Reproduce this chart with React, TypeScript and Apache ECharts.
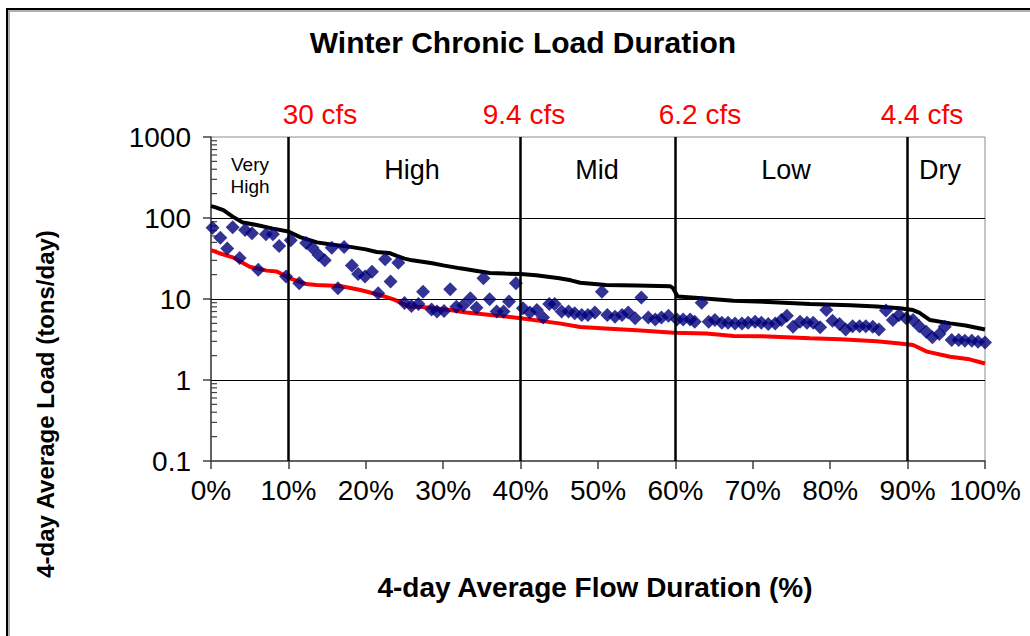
import React, { useEffect, useRef } from "react";
import * as echarts from "echarts";

// ---- data ----
const xTickLabels = ["0%", "10%", "20%", "30%", "40%", "50%", "60%", "70%", "80%", "90%", "100%"];
const yTickLabels = ["0.1", "1", "10", "100", "1000"];
const yMinorTicks = [
  0.2, 0.3, 0.4, 0.5, 0.6, 0.7, 0.8, 0.9,
  2, 3, 4, 5, 6, 7, 8, 9,
  20, 30, 40, 50, 60, 70, 80, 90,
  200, 300, 400, 500, 600, 700, 800, 900,
];
const zoneBoundaries = [10, 40, 60, 90];
const gridValues = [1, 10, 100];
const flowLabels = ["30 cfs", "9.4 cfs", "6.2 cfs", "4.4 cfs"];
const zoneNames = ["High", "Mid", "Low", "Dry"];

// upper curve (black)
const upperCurve: [number, number][] = [
  [0, 140], [0.5, 136], [1.6, 125], [2.8, 104], [4.1, 88], [5.9, 82], [8, 74], [10, 68],
  [11.5, 58], [13.7, 50], [15.5, 47], [18, 44], [20, 41], [21.4, 38], [23, 37], [24, 34],
  [25, 31.5], [26, 30], [28.6, 27.6], [30, 26], [32.2, 23.9], [34, 22.5], [36, 21], [38, 20.6],
  [40, 20.3], [42, 19.6], [45, 18], [46.5, 17], [47.7, 15.9], [51, 14.9], [55, 14.7],
  [59.3, 14.4], [59.7, 13.6], [60.3, 10.7], [63, 10.3], [67.5, 9.5], [72, 9.2], [77.4, 8.7],
  [82.6, 8.4], [86, 8.1], [89, 7.7], [90.7, 7.3], [91.5, 6.8], [92.9, 5.5], [95.5, 5.0],
  [97.5, 4.7], [100, 4.2],
];

// lower curve (red)
const lowerCurve: [number, number][] = [
  [0, 40], [1, 37], [2.8, 32.7], [5, 25], [7.2, 22.4], [8.5, 21.8], [10.2, 18], [12.3, 15.3],
  [13.6, 14.9], [16.7, 14.5], [19.3, 12.9], [21.8, 11.2], [23.6, 9.9], [25.7, 8.0], [27, 8.0],
  [30.9, 7.3], [33, 6.8], [40, 5.8], [45, 5.0], [47.7, 4.5], [51.5, 4.3], [55, 4.1],
  [59.8, 3.84], [64, 3.75], [67.5, 3.5], [72, 3.45], [77.4, 3.27], [81.3, 3.18], [86, 3.0],
  [89, 2.83], [90.7, 2.7], [92.5, 2.24], [95.5, 1.94], [98, 1.8], [100, 1.6],
];

// observed loads (navy diamonds)
const observedLoads: [number, number][] = [
  [0.2, 76], [1.2, 57], [2.1, 42], [2.8, 77], [3.7, 32], [4.4, 71], [5.3, 65], [6.1, 23],
  [7.1, 63], [8.0, 63], [8.8, 45], [9.7, 19], [10.3, 53], [11.4, 15.6], [12.3, 49], [13.1, 43],
  [13.9, 35], [14.7, 30], [15.6, 43], [16.4, 13.6], [17.2, 44], [18.2, 26], [19.0, 20.4],
  [19.9, 19], [20.8, 21.7], [21.6, 11.8], [22.5, 31], [23.2, 16.4], [24.2, 28], [25.0, 8.9],
  [25.9, 8.2], [26.8, 8.7], [27.4, 12.3], [28.5, 7.4], [29.2, 7.0], [30.1, 7.1], [30.9, 13.2],
  [31.7, 8.0], [32.6, 8.4], [33.5, 10.2], [34.3, 7.8], [35.2, 18], [36.0, 9.9], [36.9, 7.0],
  [37.8, 7.0], [38.5, 9.3], [39.4, 15.6], [40.3, 7.7], [41.2, 6.8], [42.1, 7.3], [42.9, 5.9],
  [43.7, 8.7], [44.4, 8.7], [45.3, 7.0], [46.2, 7.0], [47.0, 6.65], [47.9, 6.35], [48.7, 6.35],
  [49.6, 6.8], [50.5, 12.3], [51.2, 6.35], [52.2, 6.05], [53.1, 6.35], [53.9, 6.8], [54.8, 5.77],
  [55.6, 10.4], [56.5, 5.9], [57.4, 5.6], [58.2, 5.9], [59.1, 6.2], [60.2, 5.6], [61.0, 5.6],
  [61.9, 5.6], [62.5, 5.25], [63.4, 9.0], [64.3, 5.25], [65.1, 5.5], [66.0, 5.1], [66.8, 5.1],
  [67.7, 5.0], [68.6, 5.0], [69.4, 5.1], [70.3, 5.25], [71.1, 5.1], [72.0, 4.9], [72.9, 5.0],
  [73.7, 5.5], [74.4, 6.2], [75.2, 4.55], [76.1, 5.25], [77.0, 5.1], [77.8, 5.1], [78.7, 4.47],
  [79.5, 7.3], [80.3, 5.4], [81.2, 4.9], [82.0, 4.2], [82.9, 4.6], [83.8, 4.6], [84.6, 4.6],
  [85.5, 4.55], [86.3, 4.2], [87.2, 7.2], [88.1, 5.5], [88.9, 6.35], [89.8, 5.77], [90.7, 5.5],
  [91.5, 4.6], [92.4, 3.95], [93.2, 3.37], [94.1, 3.7], [94.8, 4.55], [95.7, 3.12], [96.6, 3.12],
  [97.4, 3.05], [98.3, 3.05], [99.1, 2.97], [100, 2.9],
];

const FONT = '"Liberation Sans", Arial, Helvetica, sans-serif';

export default function App() {
  const ref = useRef<HTMLDivElement>(null);

  useEffect(() => {
    if (!ref.current) return;
    const chart = echarts.init(ref.current, undefined, { renderer: "svg" });

    const flowLabelX = [320, 524, 700, 922];
    const zoneNameX = [412, 597, 786, 940];

    const graphic: any[] = [
      // outer frame
      {
        type: "polyline",
        silent: true,
        shape: { points: [[9, 700], [9, 11], [1100, 11]] },
        style: { stroke: "#b0b0b0", lineWidth: 2, fill: "none" },
        z: 0,
      },
      {
        type: "polyline",
        silent: true,
        shape: { points: [[7, 700], [7, 9], [1100, 9]] },
        style: { stroke: "#000", lineWidth: 2, fill: "none" },
        z: 1,
      },
      {
        type: "text",
        x: 523,
        y: 42,
        style: {
          text: "Winter Chronic Load Duration",
          font: `bold 30px ${FONT}`,
          fill: "#000",
          textAlign: "center",
          textVerticalAlign: "middle",
        },
      },
      {
        type: "text",
        x: 595,
        y: 587,
        style: {
          text: "4-day Average Flow Duration (%)",
          font: `bold 28px ${FONT}`,
          fill: "#000",
          textAlign: "center",
          textVerticalAlign: "middle",
        },
      },
      {
        type: "text",
        x: 45,
        y: 404,
        rotation: Math.PI / 2,
        style: {
          text: "4-day Average Load (tons/day)",
          font: `bold 24px ${FONT}`,
          fill: "#000",
          textAlign: "center",
          textVerticalAlign: "middle",
        },
      },
      {
        type: "text",
        x: 250,
        y: 164,
        style: { text: "Very", font: `19px ${FONT}`, fill: "#000", textAlign: "center", textVerticalAlign: "middle" },
      },
      {
        type: "text",
        x: 250,
        y: 186,
        style: { text: "High", font: `19px ${FONT}`, fill: "#000", textAlign: "center", textVerticalAlign: "middle" },
      },
      ...flowLabels.map((t, i) => ({
        type: "text",
        x: flowLabelX[i],
        y: 114,
        style: { text: t, font: `28px ${FONT}`, fill: "#ff0000", textAlign: "center", textVerticalAlign: "middle" },
      })),
      ...zoneNames.map((t, i) => ({
        type: "text",
        x: zoneNameX[i],
        y: 170,
        style: { text: t, font: `27px ${FONT}`, fill: "#000", textAlign: "center", textVerticalAlign: "middle" },
      })),
    ];

    const option: any = {
      animation: false,
      backgroundColor: "#ffffff",
      textStyle: { fontFamily: FONT },
      grid: {
        left: 211,
        top: 137,
        width: 774,
        height: 324,
        show: true,
        borderColor: "#8c8c8c",
        borderWidth: 1,
        backgroundColor: "transparent",
      },
      xAxis: {
        type: "value",
        min: 0,
        max: 100,
        interval: 10,
        axisLine: { show: true, lineStyle: { color: "#404040", width: 1.5 } },
        axisTick: { show: true, length: 8, lineStyle: { color: "#404040", width: 1.5 } },
        axisLabel: {
          fontSize: 28,
          color: "#000",
          fontFamily: FONT,
          margin: 15,
          formatter: (v: number) => xTickLabels[Math.round(v / 10)] ?? "",
        },
        splitLine: { show: false },
      },
      yAxis: {
        type: "log",
        logBase: 10,
        min: 0.1,
        max: 1000,
        axisLine: { show: true, lineStyle: { color: "#404040", width: 1.5 } },
        axisTick: { show: true, length: 8, lineStyle: { color: "#404040", width: 1.5 } },
        axisLabel: {
          fontSize: 28,
          color: "#000",
          fontFamily: FONT,
          margin: 20,
          formatter: (v: number) => yTickLabels[Math.round(Math.log10(v)) + 1] ?? "",
        },
        splitLine: { show: false },
      },
      graphic,
      series: [
        {
          type: "line",
          data: [],
          silent: true,
          z: 1,
          markLine: {
            silent: true,
            symbol: "none",
            label: { show: false },
            animation: false,
            data: [
              ...gridValues.map((v) => ({ yAxis: v, lineStyle: { color: "#000", width: 1, type: "solid" } })),
              ...zoneBoundaries.map((v) => ({ xAxis: v, lineStyle: { color: "#000", width: 2.5, type: "solid" } })),
            ],
          },
        },
        {
          type: "custom",
          coordinateSystem: "cartesian2d",
          silent: true,
          clip: false,
          z: 2,
          data: yMinorTicks.map((v) => [0, v]),
          renderItem: (_params: any, api: any) => {
            const p = api.coord([api.value(0), api.value(1)]);
            return {
              type: "line",
              shape: { x1: p[0], y1: p[1], x2: p[0] + 6, y2: p[1] },
              style: { stroke: "#404040", lineWidth: 1.2 },
            };
          },
        },
        {
          name: "lower",
          type: "line",
          data: lowerCurve,
          showSymbol: false,
          symbol: "none",
          lineStyle: { color: "#ff0000", width: 4 },
          z: 3,
        },
        {
          name: "upper",
          type: "line",
          data: upperCurve,
          showSymbol: false,
          symbol: "none",
          lineStyle: { color: "#000000", width: 4 },
          z: 3,
        },
        {
          name: "observed",
          type: "scatter",
          data: observedLoads,
          symbol: "diamond",
          symbolSize: 14,
          itemStyle: { color: "#00007a" },
          z: 4,
        },
      ],
    };

    chart.setOption(option);
    return () => chart.dispose();
  }, []);

  return (
    <div
      ref={ref}
      style={{ position: "fixed", left: 0, top: 0, width: 1030, height: 636, background: "#fff" }}
    />
  );
}
